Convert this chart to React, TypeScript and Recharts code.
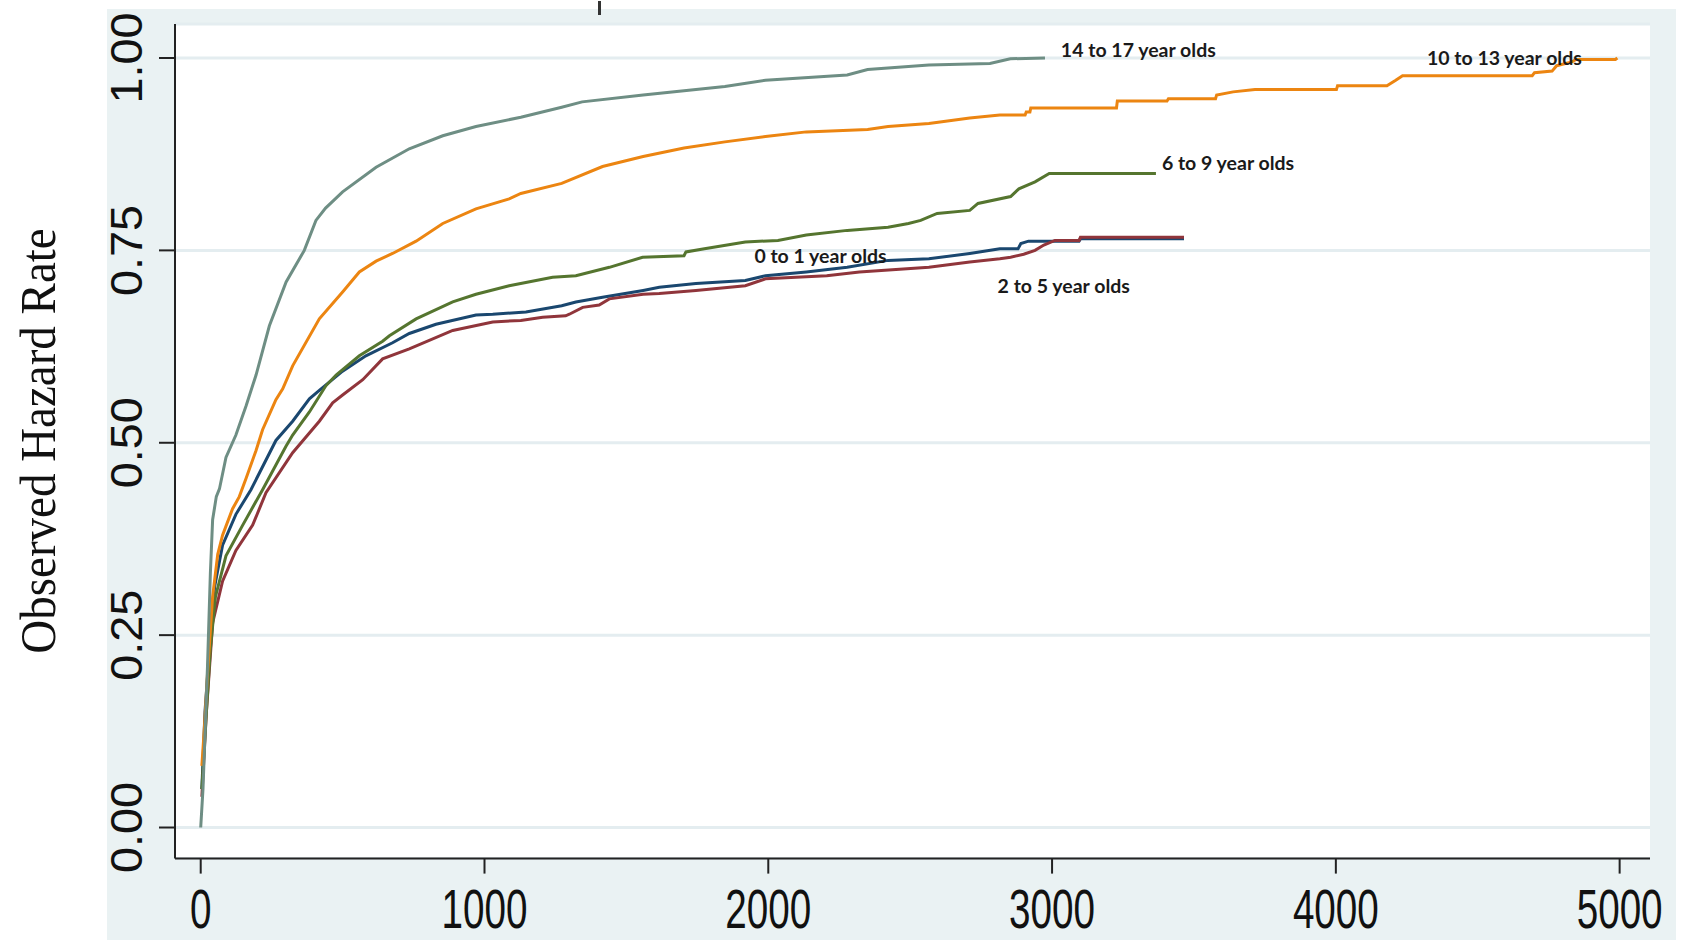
import React from "react";
import {
  LineChart,
  Line,
  XAxis,
  YAxis,
  CartesianGrid,
  ReferenceDot,
} from "recharts";

// tick labels
const xTicks = [0, 1000, 2000, 3000, 4000, 5000];
const yTicks = [0, 0.25, 0.5, 0.75, 1];

const age0to1: [number, number][] = [
  [4, 0.05], [15, 0.15], [31, 0.232], [49, 0.313], [77, 0.367], [124, 0.407],
  [177, 0.439], [265, 0.503], [324, 0.528], [383, 0.557], [418, 0.568],
  [500, 0.593], [582, 0.613], [676, 0.63], [735, 0.642], [829, 0.654],
  [970, 0.666], [1029, 0.667], [1146, 0.67], [1272, 0.678], [1322, 0.683],
  [1416, 0.689], [1559, 0.698], [1616, 0.702], [1745, 0.707], [1919, 0.711],
  [1990, 0.717], [2134, 0.722], [2278, 0.728], [2422, 0.737], [2566, 0.739],
  [2710, 0.746], [2816, 0.752], [2880, 0.752], [2890, 0.759], [2917, 0.762],
  [3095, 0.762], [3100, 0.765], [3465, 0.765],
];

const age2to5: [number, number][] = [
  [4, 0.04], [20, 0.15], [42, 0.266], [77, 0.32], [124, 0.36], [183, 0.393],
  [230, 0.435], [324, 0.487], [418, 0.528], [465, 0.552], [500, 0.562],
  [571, 0.582], [641, 0.609], [735, 0.622], [888, 0.646], [1029, 0.657],
  [1128, 0.659], [1205, 0.663], [1286, 0.665], [1299, 0.667], [1346, 0.676],
  [1404, 0.679], [1440, 0.687], [1559, 0.693], [1616, 0.694], [1745, 0.698],
  [1919, 0.704], [1990, 0.713], [2206, 0.717], [2321, 0.722], [2566, 0.728],
  [2710, 0.735], [2816, 0.739], [2854, 0.741], [2900, 0.745], [2940, 0.75],
  [2971, 0.757], [3010, 0.763], [3095, 0.763], [3100, 0.767], [3465, 0.767],
];

const age6to9: [number, number][] = [
  [4, 0.05], [20, 0.15], [34, 0.232], [52, 0.3], [89, 0.353], [148, 0.393],
  [218, 0.439], [300, 0.495], [324, 0.51], [383, 0.54], [441, 0.574],
  [477, 0.588], [559, 0.613], [641, 0.632], [665, 0.639], [759, 0.661],
  [888, 0.683], [970, 0.693], [1087, 0.704], [1240, 0.715], [1322, 0.717],
  [1440, 0.728], [1557, 0.741], [1703, 0.743], [1710, 0.748], [1775, 0.752],
  [1919, 0.761], [2034, 0.763], [2134, 0.77], [2278, 0.776], [2422, 0.78],
  [2494, 0.785], [2537, 0.789], [2595, 0.798], [2710, 0.802], [2739, 0.811],
  [2854, 0.82], [2883, 0.83], [2940, 0.839], [2990, 0.85], [3366, 0.85],
];

const age10to13: [number, number][] = [
  [4, 0.08], [13, 0.13], [24, 0.2], [42, 0.3], [60, 0.355], [77, 0.38],
  [112, 0.414], [136, 0.43], [160, 0.454], [195, 0.49], [218, 0.517],
  [265, 0.556], [289, 0.57], [324, 0.6], [418, 0.661], [500, 0.696],
  [559, 0.722], [618, 0.736], [676, 0.746], [759, 0.762], [853, 0.785],
  [970, 0.804], [1087, 0.817], [1128, 0.824], [1272, 0.837], [1416, 0.859],
  [1559, 0.872], [1703, 0.883], [1847, 0.891], [1990, 0.898], [2134, 0.904],
  [2350, 0.907], [2422, 0.911], [2566, 0.915], [2710, 0.922], [2816, 0.926],
  [2905, 0.926], [2909, 0.93], [2922, 0.93], [2925, 0.935], [3227, 0.935],
  [3230, 0.944], [3405, 0.944], [3410, 0.947], [3576, 0.947], [3580, 0.952],
  [3638, 0.956], [3715, 0.959], [4002, 0.959], [4006, 0.964], [4180, 0.964],
  [4211, 0.971], [4235, 0.977], [4692, 0.977], [4700, 0.981], [4762, 0.983],
  [4778, 0.99], [4832, 0.995], [4846, 0.998], [4985, 0.998], [4992, 1.0],
];

const age14to17: [number, number][] = [
  [0, 0], [8, 0.05], [13, 0.1], [24, 0.21], [34, 0.33], [42, 0.4], [55, 0.43],
  [66, 0.44], [89, 0.481], [124, 0.51], [160, 0.548], [195, 0.588],
  [242, 0.652], [301, 0.709], [365, 0.75], [406, 0.789], [440, 0.805],
  [477, 0.818], [500, 0.826], [618, 0.858], [735, 0.882], [853, 0.899],
  [970, 0.911], [1128, 0.923], [1272, 0.936], [1344, 0.943], [1559, 0.952],
  [1847, 0.963], [1990, 0.971], [2278, 0.978], [2350, 0.985], [2566, 0.991],
  [2781, 0.993], [2853, 0.999], [2975, 1.0],
];

// series names, in drawing order
const seriesNames = [
  "0 to 1 year olds",
  "2 to 5 year olds",
  "6 to 9 year olds",
  "10 to 13 year olds",
  "14 to 17 year olds",
];
const seriesData = [age0to1, age2to5, age6to9, age10to13, age14to17];
const seriesColors = ["#1A476F", "#90353B", "#55752F", "#EC8511", "#6E8E84"];

// where each curve label starts (time, rate of its baseline)
const labelAnchors: [number, number][] = [
  [1951, 0.733],
  [2808, 0.694],
  [3387, 0.854],
  [4321, 0.9913],
  [3031, 1.0013],
];

const toPoints = (rows: [number, number][]) => rows.map(([x, y]) => ({ x, y }));

const YTick = (props: any) => {
  const { y, payload } = props;
  return (
    <text
      transform={`translate(142, ${y}) rotate(-90) scale(1.04, 1)`}
      textAnchor="middle"
      fontSize={45}
      fontFamily="'Liberation Sans', Arial, sans-serif"
      fill="#111"
    >
      {payload.value.toFixed(2)}
    </text>
  );
};

const XTick = (props: any) => {
  const { x, payload } = props;
  return (
    <text
      transform={`translate(${x}, 928) scale(0.92, 1.3)`}
      textAnchor="middle"
      fontSize={42}
      fontFamily="'Liberation Sans', Arial, sans-serif"
      fill="#111"
    >
      {payload.value}
    </text>
  );
};

export default function App() {
  return (
    <div
      style={{
        position: "fixed",
        left: 0,
        top: 0,
        width: 1683,
        height: 940,
        background: "#fff",
      }}
    >
      <div
        style={{
          position: "absolute",
          left: 107,
          top: 9,
          width: 1569,
          height: 931,
          background: "#EAF2F3",
        }}
      />
      <div
        style={{
          position: "absolute",
          left: 598,
          top: 1,
          width: 3,
          height: 14,
          background: "#333",
        }}
      />
      <div style={{ position: "absolute", left: 0, top: 0 }}>
        <LineChart
          width={1683}
          height={940}
          margin={{ top: 24, right: 33, left: 0, bottom: 0 }}
        >
          <CartesianGrid
            vertical={false}
            stroke="#E4EDF0"
            strokeWidth={3}
            fill="#ffffff"
          />
          <XAxis
            type="number"
            dataKey="x"
            domain={[-90.6, 5107]}
            ticks={xTicks}
            allowDataOverflow
            height={81.4}
            tickSize={15}
            tick={<XTick />}
            axisLine={{ stroke: "#222", strokeWidth: 2 }}
            tickLine={{ stroke: "#222", strokeWidth: 2 }}
          />
          <YAxis
            type="number"
            dataKey="y"
            domain={[-0.0404, 1.0442]}
            ticks={yTicks}
            allowDataOverflow
            width={175}
            tickSize={16}
            tick={<YTick />}
            axisLine={{ stroke: "#222", strokeWidth: 2 }}
            tickLine={{ stroke: "#222", strokeWidth: 2 }}
          />
          {seriesData.map((rows, i) => (
            <Line
              key={seriesNames[i]}
              name={seriesNames[i]}
              data={toPoints(rows)}
              dataKey="y"
              type="linear"
              stroke={seriesColors[i]}
              strokeWidth={3}
              dot={false}
              activeDot={false}
              isAnimationActive={false}
            />
          ))}
          {labelAnchors.map(([x, y], i) => (
            <ReferenceDot
              key={"lbl" + i}
              x={x}
              y={y}
              r={0}
              ifOverflow="visible"
              shape={(p: any) => (
                <text
                  x={p.cx}
                  y={p.cy}
                  fontSize={19.5}
                  fontWeight={700}
                  fontFamily="Lato, 'Open Sans', sans-serif"
                  fill="#1a1a1a"
                >
                  {seriesNames[i]}
                </text>
              )}
            />
          ))}
        </LineChart>
      </div>
      <svg
        width={80}
        height={940}
        style={{ position: "absolute", left: 0, top: 0 }}
      >
        <text
          transform="translate(55, 441) rotate(-90) scale(0.94, 1)"
          textAnchor="middle"
          fontSize={50}
          fontFamily="'Liberation Serif', 'Times New Roman', serif"
          fill="#111"
        >
          Observed Hazard Rate
        </text>
      </svg>
    </div>
  );
}
